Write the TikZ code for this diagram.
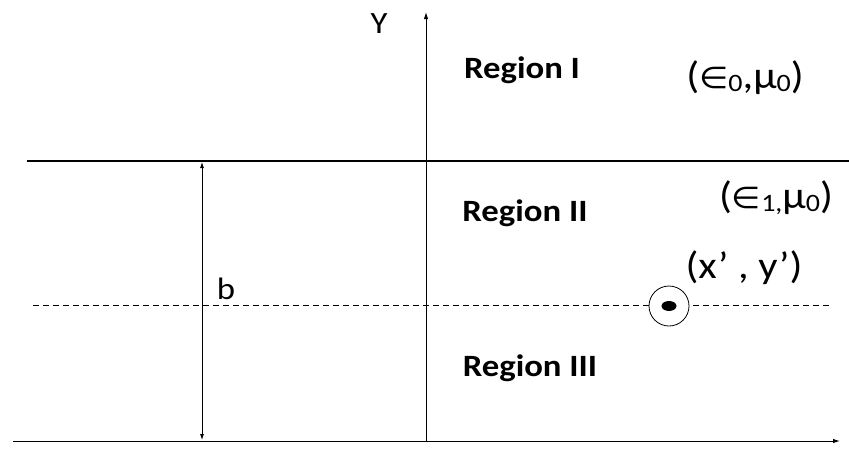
\documentclass[tikz,border=0pt]{standalone}
\usepackage{fontspec}
\setmainfont{Carlito}
\newfontfamily\symfont{DejaVu Sans}
\usetikzlibrary{arrows.meta}
\tikzset{
  axis/.style={line width=1pt, -{Latex[length=7pt,width=4.5pt]}},
  interface/.style={line width=2pt},
  dimline/.style={line width=0.8pt, {Latex[length=6pt,width=4pt]}-{Latex[length=6pt,width=4pt]}},
  guide/.style={line width=0.9pt, dash pattern=on 6pt off 4pt},
  regionlbl/.style={font=\fontsize{31}{36}\selectfont\bfseries, inner sep=0pt},
  lbl/.style={font=\fontsize{31}{36}\selectfont, inner sep=0pt},
  medlbl/.style={font=\fontsize{38}{44}\selectfont, inner sep=0pt}
}
\newcommand{\sbs}[1]{\raisebox{-3pt}{\fontsize{25}{29}\selectfont #1}}
\newcommand{\elm}{{\symfont\fontsize{30}{35}\selectfont ∈}}
\newcommand{\hs}[1]{\scalebox{1.12}[1]{#1}}
\begin{document}
\begin{tikzpicture}[x=1pt,y=-1pt]
\useasboundingbox (0,0) rectangle (849,448);
% coordinates
\coordinate (ybot) at (426,441);
\coordinate (ytop) at (426,12);
\coordinate (xl) at (13,441);
\coordinate (xr) at (840,441);
\coordinate (il) at (27,161);
\coordinate (ir) at (849,161);
\coordinate (dl) at (33,305);
\coordinate (dr) at (832,305);
\coordinate (bt) at (202,162);
\coordinate (bb) at (202,440);
% lines
\draw[axis] (ybot) -- (ytop);
\draw[axis] (xl) -- (xr);
\draw[interface] (il) -- (ir);
\draw[guide] (dl) -- (dr);
\draw[dimline] (bt) -- (bb);
% source
\node[draw, circle, line width=0.8pt, minimum size=40pt, inner sep=0pt, fill=white] (src) at (669,306) {};
\fill (src.center) ellipse (7.5pt and 5pt);
% labels
\node[lbl] (ylab) at (379,24) {\hs{Y}};
\node[lbl] (blab) at (226,289) {\hs{b}};
\node[regionlbl] (r1) at (522,70) {\hs{Region I}};
\node[regionlbl] (r2) at (525,213) {\hs{Region II}};
\node[regionlbl] (r3) at (530,368) {\hs{Region III}};
\node[medlbl] (m1) at (745,78) {\hs{(\elm\sbs{0},μ\sbs{0})}};
\node[medlbl] (m2) at (776,198) {\hs{(\elm\sbs{1,}μ\sbs{0})}};
\node[medlbl] (pt) at (744,268) {\hs{(x’ , y’)}};
\end{tikzpicture}
\end{document}
